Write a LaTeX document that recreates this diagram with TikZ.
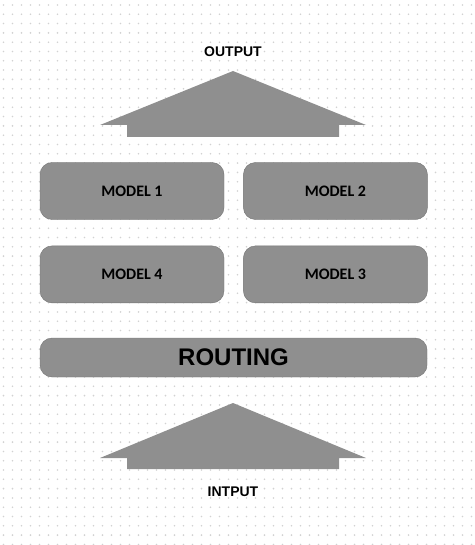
\documentclass[tikz,border=0pt]{standalone}
\usepackage{fontspec}
\setmainfont{Liberation Sans}
\newfontfamily\modelfont{Carlito}
\usepackage{xcolor}
\usetikzlibrary{positioning}

\definecolor{blockgray}{HTML}{8F8F8F}
\definecolor{edgegray}{HTML}{747474}
\definecolor{dotgray}{HTML}{D2D2D2}

\tikzset{
  modelbox/.style={draw=edgegray, fill=blockgray, rounded corners=12pt,
    minimum width=184pt, minimum height=57pt, inner sep=0pt,
    font=\modelfont\bfseries\fontsize{16}{18}\selectfont},
  routebox/.style={draw=edgegray, fill=blockgray, rounded corners=12pt,
    minimum width=387pt, minimum height=39pt, inner sep=0pt,
    font=\bfseries\fontsize{24}{28}\selectfont},
  caption/.style={font=\bfseries\fontsize{14}{16}\selectfont},
  bigarrow/.style={fill=blockgray, draw=none}
}

\begin{document}
\begin{tikzpicture}[x=1pt,y=-1pt]
  \useasboundingbox (0,0) rectangle (474,545);
  % dotted paper
  \foreach \i in {0,...,52} {
    \foreach \j in {0,...,58} {
      \fill[dotgray] (3.5+9*\i,5+9.3*\j) circle (0.9pt);
    }
  }

  % texts
  \node[caption] (out) at (233,51.5) {OUTPUT};
  \node[caption] (in) at (233,491.5) {INTPUT};

  % models
  \node[modelbox] (m1) at (132,191) {MODEL 1};
  \node[modelbox, right=19pt of m1] (m2) {MODEL 2};
  \node[modelbox, below=26pt of m1] (m4) {MODEL 4};
  \node[modelbox, right=19pt of m4] (m3) {MODEL 3};

  % routing
  \node[routebox] (route) at (233.5,357.5) {ROUTING};

  % arrows
  \coordinate (top) at (233,71);
  \coordinate (bot) at (233,403);
  \fill[bigarrow] (top) -- ++(133,54) -- ++(-27,0) -- ++(0,12)
    -- ++(-212,0) -- ++(0,-12) -- ++(-27,0) -- cycle;
  \fill[bigarrow] (bot) -- ++(133,55) -- ++(-27,0) -- ++(0,11)
    -- ++(-212,0) -- ++(0,-11) -- ++(-27,0) -- cycle;
\end{tikzpicture}
\end{document}
